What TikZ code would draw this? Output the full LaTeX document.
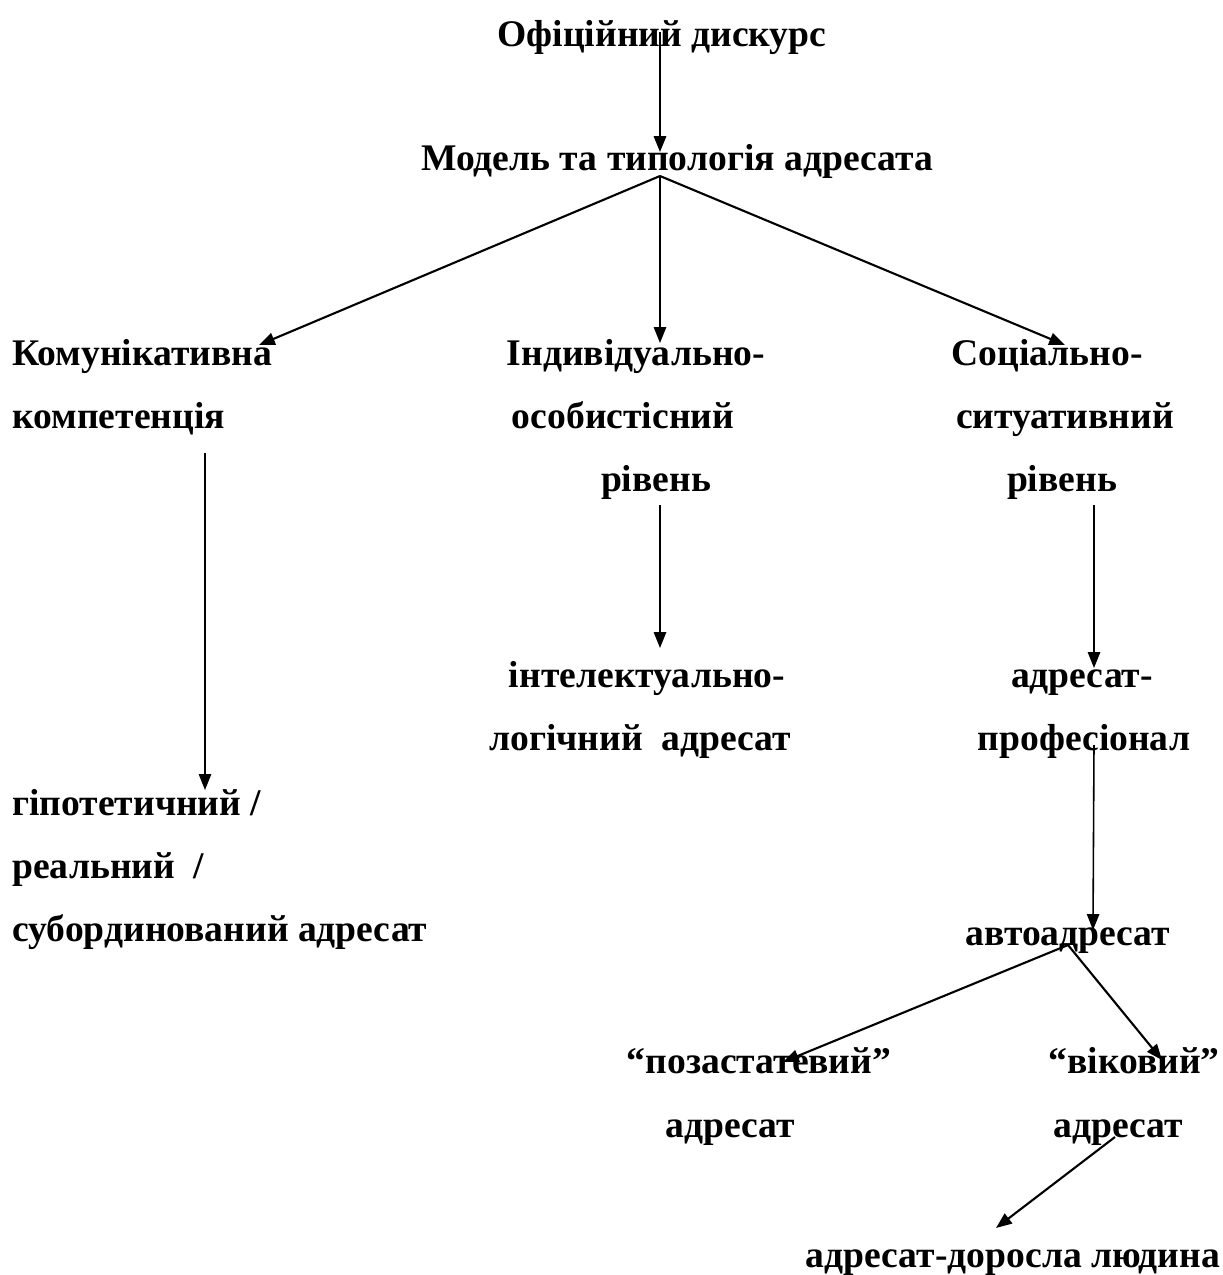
\documentclass[tikz,border=0pt]{standalone}
\usepackage{fontspec}
\setmainfont{Liberation Serif}
\usetikzlibrary{arrows.meta, positioning}
\tikzset{
  lbl/.style={font=\fontsize{21.4}{25}\selectfont\bfseries, inner sep=0pt, anchor=base},
  lbll/.style={lbl, anchor=base west},
  arr/.style={-{Triangle[length=9pt, width=7pt]}, line width=1.2pt},
  thinarr/.style={arr, line width=0.9pt}
}

\begin{document}
\begin{tikzpicture}[x=0.02cm, y=-0.02cm]
  \useasboundingbox (0,0) rectangle (1223,1275);
  % levels of the scheme
  \node[lbl] (disk) at (662,46) {Офіційний дискурс};
  \node[lbl] (model) at (677,170) {Модель та типологія адресата};
  \node[lbll] (kom1) at (12,365) {Комунікативна};
  \node[lbll] (kom2) at (12,428) {компетенція};
  \node[lbl] (ind1) at (636,365) {Індивідуально-};
  \node[lbl] (ind2) at (623,428) {особистісний};
  \node[lbl] (ind3) at (656,491) {рівень};
  \node[lbl] (soc1) at (1047,365) {Соціально-};
  \node[lbl] (soc2) at (1065,428) {ситуативний};
  \node[lbl] (soc3) at (1062,491) {рівень};
  \node[lbl] (int1) at (647,687) {інтелектуально-};
  \node[lbl] (int2) at (640,750) {логічний\ \ адресат};
  \node[lbl] (prof1) at (1082,687) {адресат-};
  \node[lbl] (prof2) at (1084,750) {професіонал};
  \node[lbll] (gip1) at (12,815) {гіпотетичний /};
  \node[lbll] (gip2) at (12,878) {реальний\ \ /};
  \node[lbll] (gip3) at (12,941) {субординований адресат};
  \node[lbl] (avto) at (1068,945) {автоадресат};
  \node[lbl] (poz1) at (759,1073) {“позастатевий”};
  \node[lbl] (poz2) at (730,1137) {адресат};
  \node[lbl] (vik1) at (1134,1073) {“віковий”};
  \node[lbl] (vik2) at (1118,1137) {адресат};
  \node[lbl] (dor) at (1013,1267) {адресат-доросла людина};

  % arrow ends
  \coordinate (disk-out) at (660,32);
  \coordinate (model-in) at (660,152);
  \coordinate (model-out) at (660,176);
  \coordinate (kom-in) at (259,345);
  \coordinate (ind-in) at (660,343);
  \coordinate (soc-in) at (1065,345);
  \coordinate (kom-out) at (205,453);
  \coordinate (gip-in) at (205,790);
  \coordinate (ind-out) at (660,505);
  \coordinate (int-in) at (660,648);
  \coordinate (soc-out) at (1094,505);
  \coordinate (prof-in) at (1094,668);
  \coordinate (prof-out) at (1094,745);
  \coordinate (avto-in) at (1093,930);
  \coordinate (avto-out) at (1068,945);
  \coordinate (poz-in) at (783,1062);
  \coordinate (vik-in) at (1162,1060);
  \coordinate (vik-out) at (1115,1137);
  \coordinate (dor-in) at (996,1228);

  \draw[arr] (disk-out) -- (model-in);
  \draw[arr] (model-out) -- (kom-in);
  \draw[thinarr] (model-out) -- (ind-in);
  \draw[arr] (model-out) -- (soc-in);
  \draw[thinarr] (kom-out) -- (gip-in);
  \draw[thinarr] (ind-out) -- (int-in);
  \draw[thinarr] (soc-out) -- (prof-in);
  \draw[thinarr] (prof-out) -- (avto-in);
  \draw[arr] (avto-out) -- (poz-in);
  \draw[arr] (avto-out) -- (vik-in);
  \draw[arr] (vik-out) -- (dor-in);
\end{tikzpicture}
\end{document}
